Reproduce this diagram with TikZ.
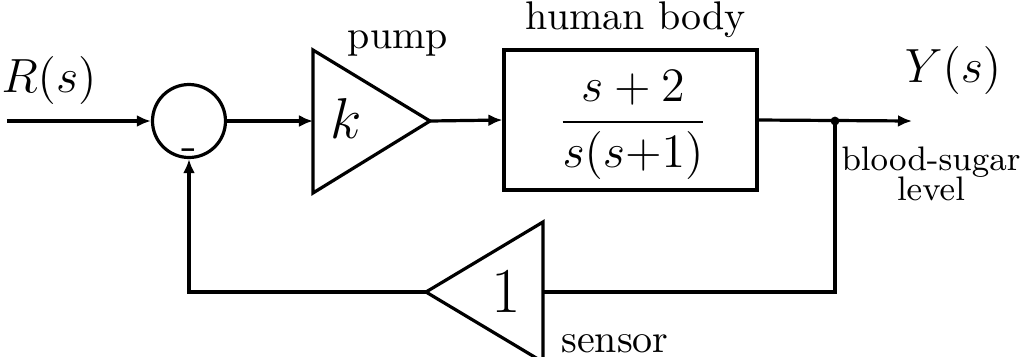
\documentclass[tikz,border=0pt]{standalone}
\usetikzlibrary{arrows.meta}
\begin{document}
\begin{tikzpicture}[x=0.25pt,y=-0.25pt,
  wire/.style={line width=0.8pt},
  sig/.style={wire,-{Latex[length=3.5pt,width=3pt]}},
  blk/.style={draw,line width=0.8pt},
  lbl/.style={anchor=base,inner sep=0pt},
  note/.style={lbl,font=\fontsize{8.5}{10}\selectfont}]
\useasboundingbox (0,0) rectangle (1033,356);
% summing junction
\node[blk,circle,minimum size=18.25pt,inner sep=0pt] (sum) at (189,121) {};
\node[lbl] (minus) at (189,160) {\large -};
% input
\coordinate (rin) at (7,121);
\node[lbl] (R) at (49,92) {\large$R(s)$};
\draw[sig] (rin) -- (sum.west);
% pump
\coordinate (pin) at (313,121);
\coordinate (pout) at (430,121);
\draw[blk,line join=miter] (313,50) -- (pout) -- (313,193) -- cycle;
\node[lbl] (k) at (346,138) {\Large$k$};
\node[lbl] (pumpl) at (398,48) {pump};
\draw[sig] (sum.east) -- (pin);
% body
\node[blk,minimum width=63.25pt,minimum height=35pt,inner sep=0pt] (body) at (630.5,120) {};
\node[inner sep=0pt] (frac) at (633,125)
  {\large$\displaystyle\frac{s+2}{s(s{+}1)}$};
\node[lbl] (bodyl) at (636,29) {human body};
\draw[sig] (pout) -- (body.west);
% output
\coordinate (jn) at (835,121);
\coordinate (yout) at (912,121);
\draw[sig] (body.east) -- (yout);
\fill (jn) circle (1.1pt);
\node[lbl] (Y) at (953,82) {\large$Y(s)$};
\node[note] (bs1) at (931,170) {blood-sugar};
\node[note] (bs2) at (931,200) {level};
% sensor
\coordinate (sin) at (543,292);
\coordinate (sout) at (426,292);
\draw[blk,line join=miter] (543,222) -- (sout) -- (543,362) -- cycle;
\node[lbl] (one) at (506,312) {\fontsize{16}{16}\selectfont 1};
\node[lbl] (sensl) at (615,352) {sensor};
% feedback
\draw[wire] (jn) |- (sin);
\draw[sig] (sout) -| (sum.south);
\end{tikzpicture}
\end{document}
